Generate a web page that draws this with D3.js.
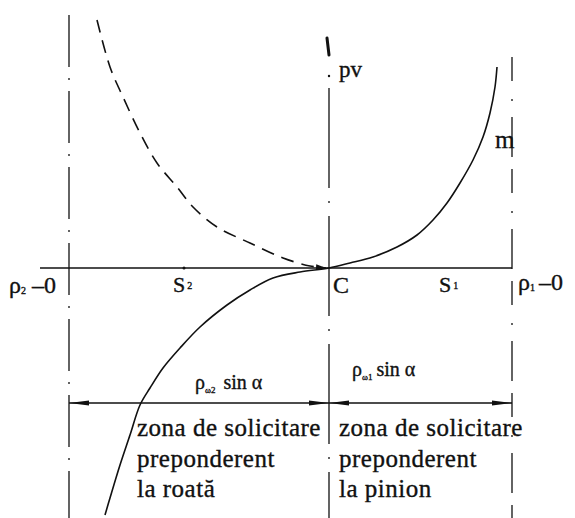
<!DOCTYPE html>
<html>
<head>
<meta charset="utf-8">
<script src="https://cdn.jsdelivr.net/npm/d3@7"></script>
<style>
  html, body { margin: 0; padding: 0; background: #fff; }
  svg { display: block; }
  text { font-family: "Liberation Serif", "DejaVu Serif", serif; fill: #111; stroke: #111; stroke-width: 0.35px; }
</style>
</head>
<body>
<script>
// Specific sliding along the line of action: s measured from pitch point C.
// Solid curve: wheel branch (below the axis) and pinion branch "m" (above).
const solidS  = [-22.4, -21.9, -20.9, -19.9, -18.9, -17.9, -16.6, -14.9, -12.9, -10.2, -7.9, -5.6, -2.9, 0,
                 2.1, 4.4, 6.8, 8.8, 10.4, 11.8, 13.1, 14.4, 15.4, 16.1, 16.6, 16.8];
const solidPV = [-24.7, -23.0, -19.7, -16.7, -13.7, -12.0, -10.0, -8.0, -5.9, -3.7, -2.2, -1.0, -0.4, 0,
                 0.5, 1.1, 2.1, 3.3, 4.8, 6.5, 8.5, 10.8, 13.1, 15.5, 18.1, 20.1];
// Dashed curve: mirrored branch on the wheel side.
const dashS   = [-23.2, -21.9, -20.6, -18.9, -17.2, -15.2, -13.6, -11.2, -7.9, -4.6, -1.9, -0.3];
const dashPV  = [24.8, 20.1, 17.1, 13.5, 10.5, 8.1, 6.1, 4.1, 2.5, 1.0, 0.2, 0];
// Limits of the line of action (rho = 0 on each gear) and the pitch point.
const limitS  = [-26, 0, 18.3];          // rho2 = 0, C, rho1 = 0
const dimensionPV = -13.5;               // level of the dimension line
const zoneLeft  = ["zona de solicitare", "preponderent", "la roată"];
const zoneRight = ["zona de solicitare", "preponderent", "la pinion"];

const W = 575, H = 518;
const svg = d3.select("body").append("svg").attr("width", W).attr("height", H);

const x = d3.scaleLinear().domain([-26, 18.3]).range([69, 512]);
const y = d3.scaleLinear().domain([-25, 25.3]).range([518, 15]);

const ink = "#111";

// Arrowhead for the dashed branch arriving at C
svg.append("defs").append("marker")
  .attr("id", "tip").attr("viewBox", "0 0 10 6").attr("refX", 10).attr("refY", 3)
  .attr("markerWidth", 10).attr("markerHeight", 6).attr("markerUnits", "userSpaceOnUse")
  .attr("orient", "auto")
  .append("path").attr("d", "M0,0 L10,3 L0,6 Z").attr("fill", ink);

// Horizontal axis (line of action)
svg.append("line")
  .attr("x1", 40).attr("x2", x(limitS[2]))
  .attr("y1", y(0)).attr("y2", y(0))
  .attr("stroke", ink).attr("stroke-width", 1.4);

// Vertical dash-dot lines
svg.append("line").attr("x1", x(limitS[0])).attr("x2", x(limitS[0]))
  .attr("y1", 15).attr("y2", H)
  .attr("stroke", ink).attr("stroke-width", 1.3).attr("stroke-dasharray", "52,11,2,11");
svg.append("line").attr("x1", x(limitS[1])).attr("x2", x(limitS[1]))
  .attr("y1", 88).attr("y2", H)
  .attr("stroke", ink).attr("stroke-width", 1.3).attr("stroke-dasharray", "100,13,2,13");
svg.append("line").attr("x1", x(limitS[2])).attr("x2", x(limitS[2]))
  .attr("y1", 57).attr("y2", H)
  .attr("stroke", ink).attr("stroke-width", 1.3).attr("stroke-dasharray", "24,18,2,16,40,12");
// heavy tick at the top of the pv axis and its first dot
svg.append("line").attr("x1", x(0) - 2).attr("x2", x(0))
  .attr("y1", 38).attr("y2", 55)
  .attr("stroke", ink).attr("stroke-width", 3).attr("stroke-linecap", "round");
svg.append("circle").attr("cx", x(0)).attr("cy", 76).attr("r", 1.2).attr("fill", ink);

// small mark on the axis
svg.append("circle").attr("cx", x(-14.5)).attr("cy", y(0)).attr("r", 1.5).attr("fill", ink);

// Curves
const line = d3.line()
  .x(d => x(d[0])).y(d => y(d[1]))
  .curve(d3.curveCatmullRom.alpha(0.5));

svg.append("path")
  .datum(solidS.map((s, i) => [s, solidPV[i]]))
  .attr("d", line).attr("fill", "none")
  .attr("stroke", ink).attr("stroke-width", 1.6);

svg.append("path")
  .datum(dashS.map((s, i) => [s, dashPV[i]]))
  .attr("d", line).attr("fill", "none")
  .attr("stroke", ink).attr("stroke-width", 1.6)
  .attr("stroke-dasharray", "13,8")
  .attr("marker-end", "url(#tip)");

// Dimension line with arrowheads
const yd = y(dimensionPV);
svg.append("line").attr("x1", x(limitS[0])).attr("x2", x(limitS[2]))
  .attr("y1", yd).attr("y2", yd).attr("stroke", ink).attr("stroke-width", 1.3);
function arrow(tip, dir) {
  const len = 20, hw = 2.4;
  svg.append("path")
    .attr("d", `M${tip},${yd} L${tip + dir * len},${yd - hw} L${tip + dir * len},${yd + hw} Z`)
    .attr("fill", ink);
}
arrow(x(limitS[0]), 1);
arrow(x(limitS[1]), -1);
arrow(x(limitS[1]), 1);
arrow(x(limitS[2]), -1);

// Labels
function label(tx, ty, parts, size, spacing) {
  const t = svg.append("text").attr("x", tx).attr("y", ty).attr("font-size", size);
  if (spacing) t.attr("letter-spacing", spacing);
  parts.forEach(p => {
    const ts = t.append("tspan").text(p.t);
    if (p.size) ts.attr("font-size", p.size);
    if (p.dy) ts.attr("dy", p.dy);
    if (p.dx) ts.attr("dx", p.dx);
  });
  return t;
}

label(339, 77, [{t: "pv"}], 23);
label(495, 148, [{t: "m"}], 25);
label(333, 293, [{t: "C"}], 24);
label(173, 292, [{t: "S"}, {t: "2", size: 10, dy: -3, dx: 2}], 22);
label(439, 292, [{t: "S"}, {t: "1", size: 10, dy: -3, dx: 2}], 22);
label(9, 293, [{t: "ρ"}, {t: "2", size: 10, dy: 1}, {t: "–0", dy: -1, dx: 6}], 24);
label(518, 290, [{t: "ρ"}, {t: "1", size: 10, dy: 1}, {t: "–0", dy: -1, dx: 4}], 24);

label(195, 389, [{t: "ρ"}, {t: "ω2", size: 9, dy: 4}, {t: "sin α", dy: -4, dx: 8}], 20);
label(352, 376, [{t: "ρ"}, {t: "ω1", size: 9, dy: 4}, {t: "sin α", dy: -4, dx: 4}], 20);

const baselines = [436, 467, 497];
zoneLeft.forEach((s, i) => label(137, baselines[i], [{t: s}], 25, 0.5));
zoneRight.forEach((s, i) => label(339, baselines[i], [{t: s}], 25, 0.5));
</script>
</body>
</html>
